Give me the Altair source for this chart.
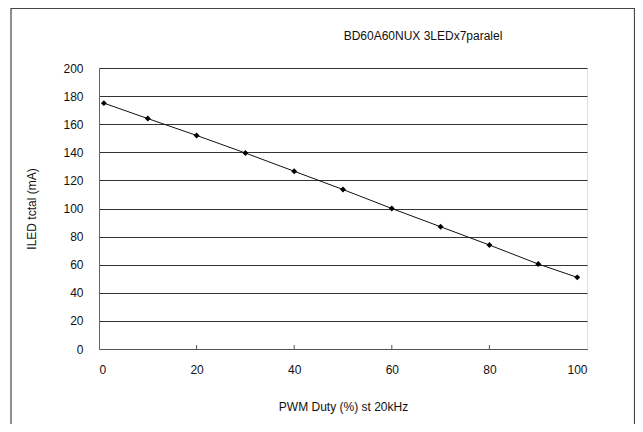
import altair as alt
import pandas as pd

duty = [1, 10, 20, 30, 40, 50, 60, 70, 80, 90, 98]
iled = [175, 164, 152, 139.5, 126.5, 113.5, 100, 87, 74, 60.5, 51]
x_ticks = [0, 20, 40, 60, 80, 100]
y_ticks = [0, 20, 40, 60, 80, 100, 120, 140, 160, 180, 200]
inner_ticks = [20, 40, 60, 80]
title_text = "BD60A60NUX 3LEDx7paralel"

FONT = "Liberation Sans"
W, H = 488, 281

df = pd.DataFrame({"duty": duty, "iled": iled})
tick_df = pd.DataFrame({"t": inner_ticks})

x_scale = alt.Scale(domain=[0, 100], nice=False)
x_axis = alt.Axis(
    values=x_ticks, grid=False, ticks=False, domain=True, domainColor="#555",
    labelPadding=15, labelFont=FONT, labelFontSize=12, labelColor="#111",
    labelOverlap=False,
    title="PWM Duty (%) st 20kHz", titleFont=FONT, titleFontSize=12,
    titleFontWeight="normal", titlePadding=26, titleColor="#111",
)
y_enc = alt.Y(
    "iled:Q",
    scale=alt.Scale(domain=[0, 200], nice=False),
    axis=alt.Axis(
        values=y_ticks, grid=True, gridColor="#333", gridOpacity=1, gridWidth=1,
        ticks=False, domain=True, domainColor="#666", labelOverlap=False,
        labelPadding=16, labelFont=FONT, labelFontSize=12, labelColor="#111",
        title="ILED tctal (mA)", titleFont=FONT, titleFontSize=12,
        titleFontWeight="normal", titlePadding=24, titleColor="#111",
    ),
)

line = alt.Chart(df).mark_line(color="#111", strokeWidth=1).encode(
    x=alt.X("duty:Q", scale=x_scale, axis=x_axis), y=y_enc
)
pts = alt.Chart(df).mark_point(shape="diamond", filled=True, color="#000", size=35, opacity=1).encode(
    x=alt.X("duty:Q", scale=x_scale, axis=x_axis), y=y_enc
)
ticks = alt.Chart(tick_df).mark_rule(color="#555", strokeWidth=1).encode(
    x=alt.X("t:Q", scale=x_scale, axis=x_axis),
    y=alt.value(H), y2=alt.value(H - 4)
)
border = alt.Chart(pd.DataFrame({"a": [0]})).mark_rect(
    fill=None, stroke="#444", strokeWidth=1.2, clip=False
).encode(
    x=alt.value(-88), x2=alt.value(535.5), y=alt.value(-59.5), y2=alt.value(H + 120)
)
title = alt.Chart(pd.DataFrame({"t": [title_text]})).mark_text(
    font=FONT, fontSize=12, color="#111", align="center", baseline="middle"
).encode(text="t:N", x=alt.value(324), y=alt.value(-32))

chart = alt.layer(border, line, pts, ticks, title).properties(
    width=W, height=H,
    autosize=alt.AutoSizeParams(type="none"),
    padding={"left": 91, "top": 60, "right": 48, "bottom": 75},
).configure_view(stroke="#777", strokeWidth=1).configure(background="white")

chart.save("out.html", embed_options={"renderer": "svg", "actions": False})
